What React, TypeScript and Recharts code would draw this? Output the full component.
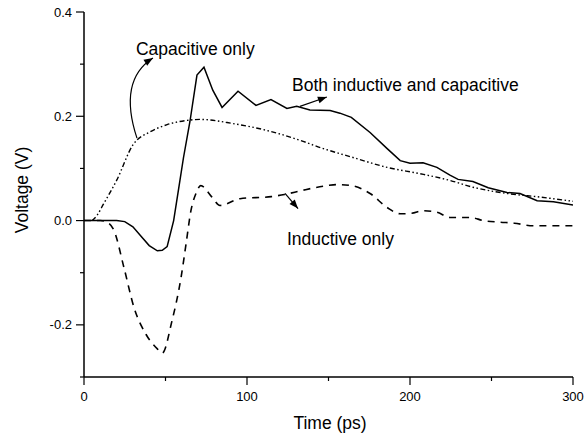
import React from "react";
import {
  LineChart,
  Line,
  XAxis,
  YAxis,
  ReferenceLine,
  ReferenceDot,
  Customized,
} from "recharts";

// time (ps) / voltage (V)
const bothTime = [0, 10, 20, 25, 30, 35, 40, 45, 48, 51, 55, 58, 61, 65, 69.3, 73.6, 79, 84.7, 94.5, 105.5, 114.7, 124.5, 130.5, 138.6, 151, 157, 164, 175.5, 186, 194, 200, 208, 216.5, 224.5, 229.5, 238.6, 248, 259.5, 267.5, 278, 288, 300];
const bothVolt = [0, 0, 0, -0.002, -0.012, -0.03, -0.048, -0.058, -0.057, -0.05, 0, 0.06, 0.12, 0.19, 0.279, 0.294, 0.25, 0.217, 0.248, 0.221, 0.232, 0.215, 0.219, 0.212, 0.211, 0.206, 0.198, 0.169, 0.138, 0.115, 0.11, 0.111, 0.102, 0.087, 0.079, 0.075, 0.063, 0.054, 0.052, 0.038, 0.036, 0.03];

const indTime = [0, 10, 15, 18.4, 24.5, 30.7, 38, 45, 48, 54, 59.5, 62.6, 65.6, 68.7, 71.6, 78.5, 83.4, 95.7, 115, 123, 134, 149, 155, 164, 175.5, 186, 194, 201, 208, 216.5, 224.5, 237, 245, 255, 264, 275.5, 286, 300];
const indVolt = [0, 0, -0.005, -0.019, -0.09, -0.167, -0.218, -0.246, -0.254, -0.192, -0.11, -0.045, 0.019, 0.052, 0.067, 0.045, 0.029, 0.042, 0.046, 0.05, 0.058, 0.067, 0.069, 0.067, 0.052, 0.025, 0.013, 0.014, 0.019, 0.016, 0.006, 0.006, 0, -0.003, -0.005, -0.01, -0.01, -0.01];

const capTime = [5, 8, 12, 20, 30, 40.5, 51, 63, 71, 91.5, 112, 132.5, 145, 165, 186, 206, 224.5, 238.6, 259.5, 280, 300];
const capVolt = [0, 0.01, 0.032, 0.077, 0.145, 0.17, 0.184, 0.192, 0.194, 0.186, 0.173, 0.154, 0.14, 0.121, 0.102, 0.09, 0.077, 0.064, 0.052, 0.045, 0.037];

const xTicks = [0, 50, 100, 150, 200, 250, 300];
const yTicks = [-0.3, -0.2, -0.1, 0, 0.1, 0.2, 0.3, 0.4];

const toRows = (t: number[], v: number[]) => t.map((time, i) => ({ time, volt: v[i] }));
const bothData = toRows(bothTime, bothVolt);
const indData = toRows(indTime, indVolt);
const capData = toRows(capTime, capVolt);

const FONT = "'Liberation Sans', Arial, sans-serif";

const arrowHead = (x: number, y: number, dx: number, dy: number) => {
  const len = Math.hypot(dx, dy) || 1;
  const ux = dx / len;
  const uy = dy / len;
  const L = 9;
  const W = 3.5;
  const bx = x - ux * L;
  const by = y - uy * L;
  return `${x},${y} ${bx - uy * W},${by + ux * W} ${bx + uy * W},${by - ux * W}`;
};

const StraightArrow = (p: any) => {
  const { x1, y1, x2, y2 } = p;
  return (
    <g>
      <line x1={x1} y1={y1} x2={x2} y2={y2} stroke="#000" strokeWidth={1.2} />
      <polygon points={arrowHead(x2, y2, x2 - x1, y2 - y1)} fill="#000" />
    </g>
  );
};

const CurvedArrow = (p: any) => {
  const { x1, y1, x2, y2 } = p;
  const cx = x1 - 19;
  const cy = y1 - 58;
  return (
    <g>
      <path d={`M${x1},${y1} Q${cx},${cy} ${x2},${y2}`} fill="none" stroke="#000" strokeWidth={1.2} />
      <polygon points={arrowHead(x2, y2, x2 - cx, y2 - cy)} fill="#000" />
    </g>
  );
};

const note = (label: string) => (p: any) => (
  <text x={p.cx} y={p.cy} fontSize={17.5} fontFamily={FONT} fill="#000">
    {label}
  </text>
);

const YTick = (p: any) => {
  const v = p.payload.value;
  const major = Math.round(v * 10) % 2 === 0;
  return (
    <g>
      <line x1={p.x - (major ? 8 : 4)} y1={p.y} x2={p.x} y2={p.y} stroke="#000" strokeWidth={1.2} />
      {major && (
        <text x={p.x - 12} y={p.y + 4.5} textAnchor="end" fontSize={13} fontFamily={FONT} fill="#000">
          {v.toFixed(1)}
        </text>
      )}
    </g>
  );
};

const XTick = (p: any) => {
  const v = p.payload.value;
  const major = v % 100 === 0;
  return (
    <g>
      <line x1={p.x} y1={p.y} x2={p.x} y2={p.y + (major ? 8 : 4)} stroke="#000" strokeWidth={1.2} />
      {major && (
        <text x={p.x} y={p.y + 24} textAnchor="middle" fontSize={13} fontFamily={FONT} fill="#000">
          {v}
        </text>
      )}
    </g>
  );
};

const Titles = () => (
  <g fontFamily={FONT} fontSize={17.5} fill="#000">
    <text x={330} y={429} textAnchor="middle">
      Time (ps)
    </text>
    <text x={27.5} y={190} textAnchor="middle" transform="rotate(-90 27.5 190)">
      Voltage (V)
    </text>
  </g>
);

export default function App() {
  return (
    <div style={{ position: "absolute", left: 0, top: 0 }}>
      <LineChart width={586} height={441} margin={{ top: 12, right: 13, bottom: 0, left: 0 }}>
        <XAxis
          dataKey="time"
          type="number"
          domain={[0, 300]}
          ticks={xTicks}
          interval={0}
          height={64}
          tickSize={0}
          tickMargin={0}
          tickLine={false}
          tick={<XTick />}
          axisLine={{ stroke: "#000", strokeWidth: 1.5 }}
          allowDataOverflow
        />
        <XAxis
          xAxisId="top"
          orientation="top"
          type="number"
          domain={[0, 300]}
          height={0}
          tick={false}
          tickLine={false}
          axisLine={{ stroke: "#000", strokeWidth: 1.5 }}
        />
        <YAxis
          type="number"
          domain={[-0.3, 0.4]}
          ticks={yTicks}
          interval={0}
          width={84}
          tickSize={0}
          tickMargin={0}
          tickLine={false}
          tick={<YTick />}
          axisLine={{ stroke: "#000", strokeWidth: 1.5 }}
          allowDataOverflow
        />
        <YAxis
          yAxisId="right"
          orientation="right"
          type="number"
          domain={[-0.3, 0.4]}
          width={0}
          tick={false}
          tickLine={false}
          axisLine={{ stroke: "#000", strokeWidth: 1.5 }}
        />
        <Line
          data={capData}
          dataKey="volt"
          type="monotone"
          stroke="#000"
          strokeWidth={1.4}
          strokeDasharray="5 2.5 1.5 2.5 1.5 2.5"
          dot={false}
          isAnimationActive={false}
        />
        <Line
          data={indData}
          dataKey="volt"
          type="monotone"
          stroke="#000"
          strokeWidth={1.6}
          strokeDasharray="7 6"
          dot={false}
          isAnimationActive={false}
        />
        <Line
          data={bothData}
          dataKey="volt"
          type="linear"
          stroke="#000"
          strokeWidth={1.5}
          dot={false}
          isAnimationActive={false}
        />
        <ReferenceLine
          segment={[{ x: 32.5, y: 0.158 }, { x: 42.3, y: 0.312 }]}
          shape={CurvedArrow}
          ifOverflow="visible"
        />
        <ReferenceLine
          segment={[{ x: 132.5, y: 0.219 }, { x: 149, y: 0.237 }]}
          shape={StraightArrow}
          ifOverflow="visible"
        />
        <ReferenceLine
          segment={[{ x: 123.3, y: 0.052 }, { x: 131.3, y: 0.023 }]}
          shape={StraightArrow}
          ifOverflow="visible"
        />
        <ReferenceDot x={31.9} y={0.317} r={0} shape={note("Capacitive only")} ifOverflow="visible" />
        <ReferenceDot x={127.6} y={0.248} r={0} shape={note("Both inductive and capacitive")} ifOverflow="visible" />
        <ReferenceDot x={124.5} y={-0.046} r={0} shape={note("Inductive only")} ifOverflow="visible" />
        <Customized component={<Titles />} />
      </LineChart>
    </div>
  );
}
